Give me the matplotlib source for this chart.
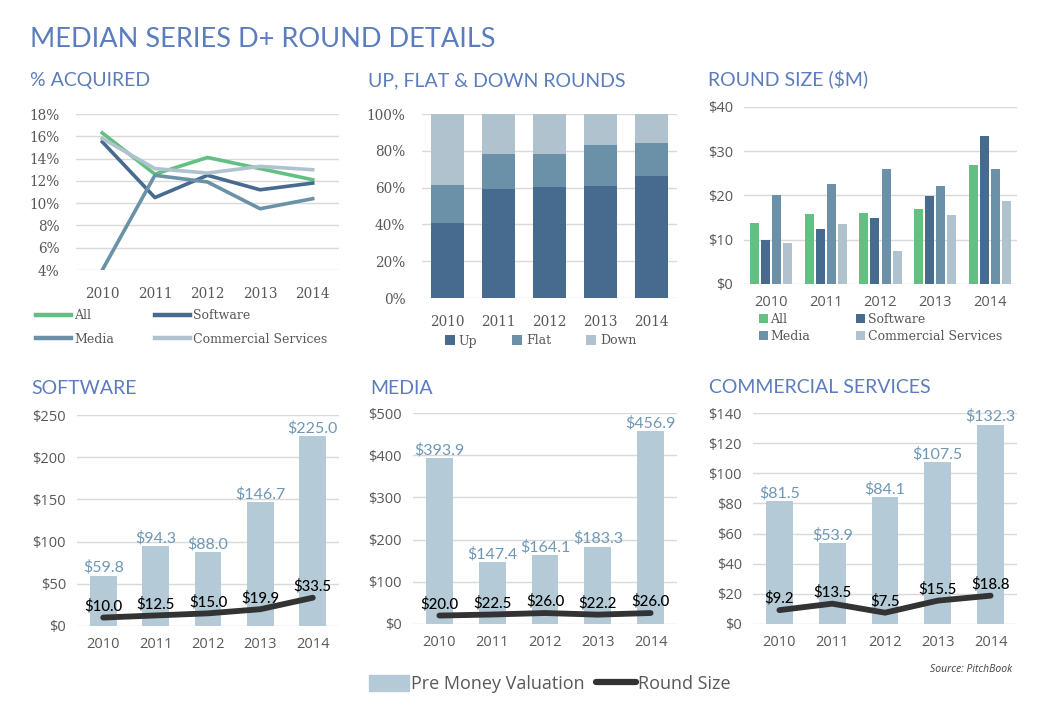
import matplotlib.pyplot as plt
from matplotlib.patches import Patch
from matplotlib.lines import Line2D
import numpy as np

W, H = 1044, 701

years = ['2010', '2011', '2012', '2013', '2014']

# % acquired
acq_all = [16.3, 12.6, 14.1, 13.1, 12.1]
acq_software = [15.5, 10.5, 12.5, 11.2, 11.8]
acq_media = [4.0, 12.5, 11.9, 9.5, 10.4]
acq_commercial = [15.8, 13.1, 12.7, 13.3, 13.0]

# up / flat / down rounds (%)
up_pct = [40.8, 59.4, 60.5, 60.8, 66.5]
flat_pct = [20.4, 19.1, 17.8, 22.3, 18.0]
down_pct = [38.8, 21.5, 21.7, 16.9, 15.5]

# median round size ($M)
size_all = [13.7, 15.9, 16.0, 17.0, 26.9]
size_software = [10.0, 12.5, 15.0, 19.9, 33.5]
size_media = [20.0, 22.5, 26.0, 22.2, 26.0]
size_commercial = [9.2, 13.5, 7.5, 15.5, 18.8]

# pre money valuation ($M)
pre_software = [59.8, 94.3, 88.0, 146.7, 225.0]
pre_media = [393.9, 147.4, 164.1, 183.3, 456.9]
pre_commercial = [81.5, 53.9, 84.1, 107.5, 132.3]

C_GREEN = '#62c083'
C_DARK = '#476a8f'
C_MID = '#6a91a8'
C_LIGHT = '#afc2ce'
C_BAR = '#b4cbd7'
C_LBL = '#6f97b6'
C_LINE = '#333333'
C_TITLE = '#5b7dbd'
C_TICK = '#595959'
C_GRID = '#d9d9d9'

SANS = 'Open Sans'
SERIF = 'DejaVu Serif'

fig = plt.figure(figsize=(W / 100, H / 100), dpi=100)


def px_axes(left, top, right, bottom):
    return fig.add_axes([left / W, 1 - bottom / H, (right - left) / W, (bottom - top) / H])


def style(ax, font, size, pad):
    for s in ax.spines.values():
        s.set_visible(False)
    ax.grid(axis='y', color=C_GRID, linewidth=1)
    ax.set_axisbelow(True)
    ax.tick_params(length=0, colors=C_TICK, labelsize=size, pad=pad)
    for lab in ax.get_xticklabels() + ax.get_yticklabels():
        lab.set_family(font)
    ax.set_xlim(-0.5, 4.5)


def title(x, y, s, size=14):
    fig.text(x / W, 1 - y / H, s, color=C_TITLE, fontsize=size, family='Lato',
             va='baseline', ha='left')


x = np.arange(len(years))

title(30, 47, 'MEDIAN SERIES D+ ROUND DETAILS', size=19.5)
title(30, 86, '% ACQUIRED')
title(368, 86, 'UP, FLAT & DOWN ROUNDS')
title(708, 85, 'ROUND SIZE ($M)')
title(31, 394, 'SOFTWARE')
title(370, 394, 'MEDIA')
title(709, 393, 'COMMERCIAL SERVICES')

# ---- % acquired
ax1 = px_axes(76, 114, 339, 270)
l_all, = ax1.plot(x, acq_all, color=C_GREEN, lw=2.6, label='All')
l_sw, = ax1.plot(x, acq_software, color=C_DARK, lw=2.6, label='Software')
l_md, = ax1.plot(x, acq_media, color=C_MID, lw=2.6, label='Media')
l_cs, = ax1.plot(x, acq_commercial, color=C_LIGHT, lw=2.6, label='Commercial Services')
ax1.set_ylim(4, 18)
ax1.set_yticks(range(4, 19, 2))
ax1.set_yticklabels([f'{v}%' for v in range(4, 19, 2)])
ax1.set_xticks(x)
ax1.set_xticklabels(years)
style(ax1, SERIF, 9.8, 12)
ax1.legend(handles=[l_all, l_md, l_sw, l_cs], ncol=2, loc='upper left',
           bbox_to_anchor=(36 / W, 1 - 309 / H), bbox_transform=fig.transFigure,
           frameon=False, prop={'family': SERIF, 'size': 9}, labelcolor=C_TICK,
           handlelength=2.8, handletextpad=0.25, columnspacing=3.3, labelspacing=0.85,
           borderaxespad=0, borderpad=0)
for h in ax1.get_legend().get_lines():
    h.set_linewidth(3.2)

# ---- up / flat / down
ax2 = px_axes(422, 114, 677, 298)
up = np.array(up_pct)
flat = np.array(flat_pct)
down = np.array(down_pct)
ax2.bar(x, up, width=0.63, color=C_DARK, label='Up')
ax2.bar(x, flat, width=0.63, bottom=up, color=C_MID, label='Flat')
ax2.bar(x, down, width=0.63, bottom=up + flat, color=C_LIGHT, label='Down')
ax2.set_ylim(0, 100)
ax2.set_yticks(range(0, 101, 20))
ax2.set_yticklabels([f'{v}%' for v in range(0, 101, 20)])
ax2.set_xticks(x)
ax2.set_xticklabels(years)
style(ax2, SERIF, 9.8, 12)
ax2.legend(ncol=3, loc='center left', bbox_to_anchor=(445 / W, 1 - 341 / H),
           bbox_transform=fig.transFigure, frameon=False,
           prop={'family': SERIF, 'size': 9}, labelcolor=C_TICK,
           handlelength=0.8, handleheight=0.8, handletextpad=0.3, columnspacing=2.8,
           borderaxespad=0, borderpad=0)

# ---- round size
ax3 = px_axes(744, 107, 1017, 284)
bw = 0.166
step = 0.203
series3 = [(size_all, C_GREEN, 'All'), (size_software, C_DARK, 'Software'),
           (size_media, C_MID, 'Media'), (size_commercial, C_LIGHT, 'Commercial Services')]
bars3 = []
for i, (vals, col, lab) in enumerate(series3):
    b = ax3.bar(x + (i - 1.5) * step, vals, width=bw, color=col, label=lab)
    bars3.append(b)
ax3.set_ylim(0, 40)
ax3.set_yticks(range(0, 41, 10))
ax3.set_yticklabels([f'${v}' for v in range(0, 41, 10)])
ax3.set_xticks(x)
ax3.set_xticklabels(years)
style(ax3, SANS, 10.5, 8)
ax3.legend(handles=[bars3[0], bars3[2], bars3[1], bars3[3]], ncol=2, loc='upper left',
           bbox_to_anchor=(759 / W, 1 - 313 / H), bbox_transform=fig.transFigure,
           frameon=False, prop={'family': SERIF, 'size': 9}, labelcolor=C_TICK,
           handlelength=0.7, handleheight=0.8, handletextpad=0.2, columnspacing=3.7,
           labelspacing=0.3, borderaxespad=0, borderpad=0)


# ---- bottom combo charts
def combo(box, pre, rs, ymax, ystep):
    ax = px_axes(*box)
    ax.bar(x, pre, width=0.51, color=C_BAR)
    ax.plot(x, rs, color=C_LINE, lw=4.2, solid_capstyle='round', solid_joinstyle='round')
    for xi, v in zip(x, pre):
        ax.annotate(f'${v:.1f}', (xi, v), xytext=(0, 0.5), textcoords='offset points',
                    ha='center', va='bottom', color=C_LBL, fontsize=11.5, family='Lato')
    for xi, v in zip(x, rs):
        ax.annotate(f'${v:.1f}', (xi, v), xytext=(0, 3), textcoords='offset points',
                    ha='center', va='bottom', color='black', fontsize=10.8, family='Lato',
                    fontweight='medium')
    ax.set_ylim(0, ymax)
    ticks = list(range(0, ymax + 1, ystep))
    ax.set_yticks(ticks)
    ax.set_yticklabels([f'${t}' for t in ticks])
    ax.set_xticks(x)
    ax.set_xticklabels(years)
    style(ax, SANS, 10.5, 8)
    return ax


combo((77, 415, 339, 626), pre_software, size_software, 250, 50)
combo((413, 413, 677, 624), pre_media, size_media, 500, 100)
combo((753, 413, 1017, 624), pre_commercial, size_commercial, 140, 20)

handles = [Patch(color=C_BAR, label='Pre Money Valuation'),
           Line2D([], [], color=C_LINE, lw=4.5, solid_capstyle='round', label='Round Size')]
fig.legend(handles=handles, ncol=2, loc='center', bbox_to_anchor=(550 / W, 1 - 684 / H),
           frameon=False, prop={'family': SANS, 'size': 13}, labelcolor=C_TICK,
           handlelength=2.2, handleheight=1.0, handletextpad=0.15, columnspacing=0.6,
           borderpad=0)

fig.text(1012 / W, 1 - 669 / H, 'Source: PitchBook', ha='right', va='center',
         fontsize=7.5, style='italic', color='#404040', family=SANS)

fig.savefig('out.png', dpi=100)
